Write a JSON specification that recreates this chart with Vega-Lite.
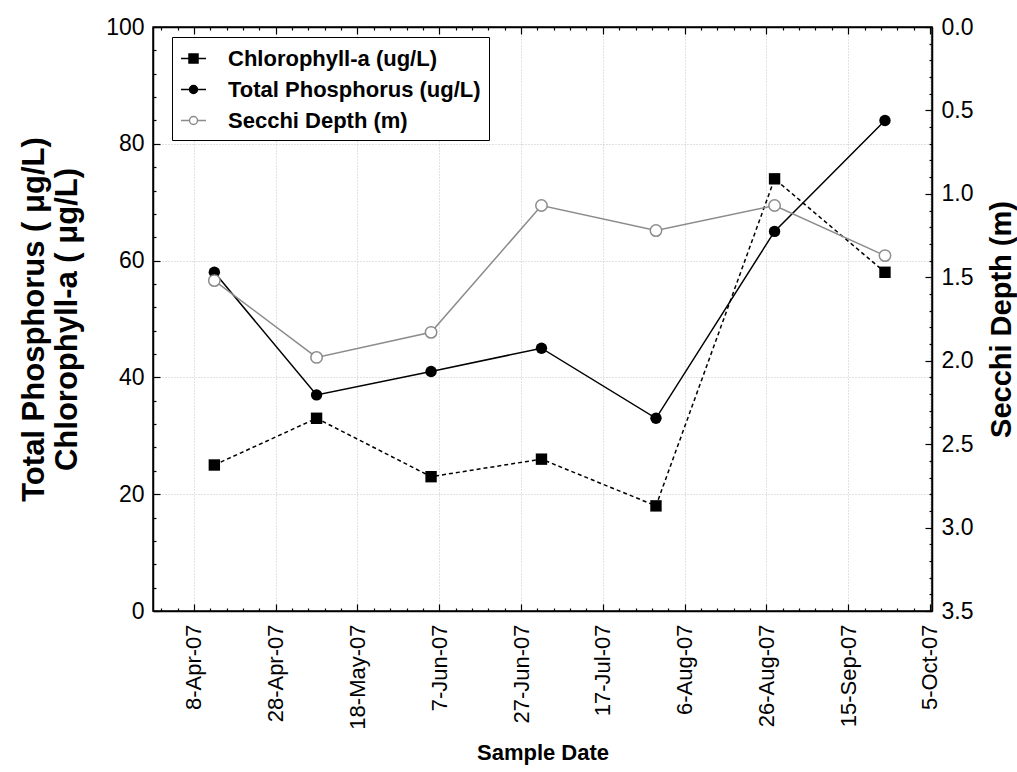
{
  "$schema": "https://vega.github.io/schema/vega-lite/v6.json",
  "autosize": {"type": "none"},
  "width": 779,
  "height": 584,
  "padding": {"left": 153, "top": 27, "right": 85, "bottom": 161},
  "background": "white",
  "config": {
    "font": "Liberation Sans",
    "view": {"stroke": "black", "strokeWidth": 1.5},
    "axis": {
      "domainColor": "black", "domainWidth": 1.5,
      "tickColor": "black", "tickWidth": 1.2,
      "labelColor": "black", "titleColor": "black",
      "labelFont": "Liberation Sans", "titleFont": "Liberation Sans",
      "labelFontSize": 23,
      "gridColor": "#c4c4c4", "gridDash": [1, 2], "gridWidth": 1
    },
    "legend": {
      "orient": "none", "legendX": 19, "legendY": 10, "title": null,
      "labelFont": "Liberation Sans", "labelFontSize": 22, "labelFontWeight": "bold", "labelColor": "black",
      "labelLimit": 400, "symbolSize": 625, "symbolStrokeWidth": 1.5, "labelOffset": 21, "rowPadding": 6, "padding": 8,
      "strokeColor": "black", "fillColor": "white"
    }
  },
  "data": {
    "values": [
      {"date": "2007-04-13", "series": "Chlorophyll-a (ug/L)", "value": 25},
      {"date": "2007-05-08", "series": "Chlorophyll-a (ug/L)", "value": 33},
      {"date": "2007-06-05", "series": "Chlorophyll-a (ug/L)", "value": 23},
      {"date": "2007-07-02", "series": "Chlorophyll-a (ug/L)", "value": 26},
      {"date": "2007-07-30", "series": "Chlorophyll-a (ug/L)", "value": 18},
      {"date": "2007-08-28", "series": "Chlorophyll-a (ug/L)", "value": 74},
      {"date": "2007-09-24", "series": "Chlorophyll-a (ug/L)", "value": 58},
      {"date": "2007-04-13", "series": "Total Phosphorus (ug/L)", "value": 58},
      {"date": "2007-05-08", "series": "Total Phosphorus (ug/L)", "value": 37},
      {"date": "2007-06-05", "series": "Total Phosphorus (ug/L)", "value": 41},
      {"date": "2007-07-02", "series": "Total Phosphorus (ug/L)", "value": 45},
      {"date": "2007-07-30", "series": "Total Phosphorus (ug/L)", "value": 33},
      {"date": "2007-08-28", "series": "Total Phosphorus (ug/L)", "value": 65},
      {"date": "2007-09-24", "series": "Total Phosphorus (ug/L)", "value": 84},
      {"date": "2007-04-13", "series": "Secchi Depth (m)", "value": 1.52},
      {"date": "2007-05-08", "series": "Secchi Depth (m)", "value": 1.98},
      {"date": "2007-06-05", "series": "Secchi Depth (m)", "value": 1.83},
      {"date": "2007-07-02", "series": "Secchi Depth (m)", "value": 1.07},
      {"date": "2007-07-30", "series": "Secchi Depth (m)", "value": 1.22},
      {"date": "2007-08-28", "series": "Secchi Depth (m)", "value": 1.07},
      {"date": "2007-09-24", "series": "Secchi Depth (m)", "value": 1.37}
    ]
  },
  "layer": [
    {
      "transform": [{"filter": "datum.series !== 'Secchi Depth (m)'"}],
      "encoding": {
        "x": {
          "field": "date", "type": "temporal",
          "scale": {"type": "utc", "domain": [1175126400000, 1191585600000]},
          "axis": {
            "orient": "bottom",
            "values": [1175299200000,1175644800000,1175990400000,1176336000000,1176681600000,1177027200000,1177372800000,1177718400000,1178064000000,1178409600000,1178755200000,1179100800000,1179446400000,1179792000000,1180137600000,1180483200000,1180828800000,1181174400000,1181520000000,1181865600000,1182211200000,1182556800000,1182902400000,1183248000000,1183593600000,1183939200000,1184284800000,1184630400000,1184976000000,1185321600000,1185667200000,1186012800000,1186358400000,1186704000000,1187049600000,1187395200000,1187740800000,1188086400000,1188432000000,1188777600000,1189123200000,1189468800000,1189814400000,1190160000000,1190505600000,1190851200000,1191196800000,1191542400000],
            "labelExpr": "(datum.value - 1175990400000) % 1728000000 === 0 ? utcFormat(datum.value, '%-d-%b-%y') : ''",
            "labelAngle": -90, "labelAlign": "right", "labelBaseline": "middle",
            "labelPadding": 20, "labelFontSize": 22,
            "labelOverlap": false, "labelFlush": false, "labelBound": false,
            "tickSize": {"condition": {"test": "(datum.value - 1175990400000) % 1728000000 === 0", "value": -7}, "value": -3},
            "grid": true,
            "gridOpacity": {"condition": {"test": "(datum.value - 1175990400000) % 1728000000 === 0", "value": 1}, "value": 0},
            "title": "Sample Date", "titleFontSize": 22, "titleFontWeight": "bold",
            "titleY": 148, "titleBaseline": "alphabetic"
          }
        },
        "y": {
          "field": "value", "type": "quantitative",
          "scale": {"domain": [0, 100], "nice": false, "zero": false},
          "axis": {
            "orient": "left",
            "values": [0,4,8,12,16,20,24,28,32,36,40,44,48,52,56,60,64,68,72,76,80,84,88,92,96,100],
            "labelExpr": "datum.value % 20 === 0 ? datum.label : ''",
            "labelPadding": 16, "labelFontSize": 23,
            "tickSize": {"condition": {"test": "datum.value % 20 === 0", "value": -7}, "value": -3},
            "grid": true,
            "gridOpacity": {"condition": {"test": "datum.value % 20 === 0", "value": 1}, "value": 0},
            "title": ["Total Phosphorus ( μg/L)", "Chlorophyll-a ( μg/L)"],
            "titleFontSize": 31, "titleFontWeight": "bold",
            "titleAngle": -90, "titleX": -119, "titleY": 292,
            "titleLineHeight": 33, "titleBaseline": "middle", "titleAlign": "center"
          }
        }
      },
      "layer": [
        {
          "transform": [{"filter": "datum.series === 'Chlorophyll-a (ug/L)'"}],
          "layer": [
            {"mark": {"type": "line", "color": "black", "strokeWidth": 1.5, "strokeDash": [4, 3]}},
            {"mark": {"type": "point", "shape": "square", "filled": true, "color": "black", "size": 130, "opacity": 1}}
          ]
        },
        {
          "transform": [{"filter": "datum.series === 'Total Phosphorus (ug/L)'"}],
          "layer": [
            {"mark": {"type": "line", "color": "black", "strokeWidth": 1.5}},
            {"mark": {"type": "point", "shape": "circle", "filled": true, "color": "black", "size": 130, "opacity": 1}}
          ]
        }
      ]
    },
    {
      "transform": [{"filter": "datum.series === 'Secchi Depth (m)'"}],
      "encoding": {
        "x": {
          "field": "date", "type": "temporal",
          "scale": {"type": "utc", "domain": [1175126400000, 1191585600000]},
          "axis": {
            "orient": "top",
            "values": [1175299200000,1175644800000,1175990400000,1176336000000,1176681600000,1177027200000,1177372800000,1177718400000,1178064000000,1178409600000,1178755200000,1179100800000,1179446400000,1179792000000,1180137600000,1180483200000,1180828800000,1181174400000,1181520000000,1181865600000,1182211200000,1182556800000,1182902400000,1183248000000,1183593600000,1183939200000,1184284800000,1184630400000,1184976000000,1185321600000,1185667200000,1186012800000,1186358400000,1186704000000,1187049600000,1187395200000,1187740800000,1188086400000,1188432000000,1188777600000,1189123200000,1189468800000,1189814400000,1190160000000,1190505600000,1190851200000,1191196800000,1191542400000],
            "labels": false, "title": null, "grid": false,
            "tickSize": {"condition": {"test": "(datum.value - 1175990400000) % 1728000000 === 0", "value": -7}, "value": -3}
          }
        },
        "y": {
          "field": "value", "type": "quantitative",
          "scale": {"domain": [0, 3.5], "reverse": true, "nice": false, "zero": false},
          "axis": {
            "orient": "right",
            "values": [0,0.1,0.2,0.3,0.4,0.5,0.6,0.7,0.8,0.9,1,1.1,1.2,1.3,1.4,1.5,1.6,1.7,1.8,1.9,2,2.1,2.2,2.3,2.4,2.5,2.6,2.7,2.8,2.9,3,3.1,3.2,3.3,3.4,3.5],
            "labelExpr": "abs(datum.value * 2 - round(datum.value * 2)) < 0.001 ? format(datum.value, '.1f') : ''",
            "labelPadding": 16, "labelFontSize": 23,
            "tickSize": {"condition": {"test": "abs(datum.value * 2 - round(datum.value * 2)) < 0.001", "value": -7}, "value": -3},
            "grid": false,
            "title": "Secchi Depth (m)", "titleFontSize": 29, "titleFontWeight": "bold",
            "titleAngle": -90, "titleX": 69, "titleY": 292,
            "titleBaseline": "middle", "titleAlign": "center"
          }
        }
      },
      "layer": [
        {"mark": {"type": "line", "color": "#8c8c8c", "strokeWidth": 1.5}},
        {"mark": {"type": "point", "shape": "circle", "filled": true, "fill": "white", "stroke": "#8c8c8c", "strokeWidth": 1.5, "size": 130, "opacity": 1}}
      ]
    },
    {
      "mark": {"type": "point", "filled": true, "size": 0, "opacity": 1, "strokeWidth": 1.5},
      "encoding": {
        "x": {"field": "date", "type": "temporal", "scale": {"type": "utc", "domain": [1175126400000, 1191585600000]}, "axis": null},
        "y": {"field": "value", "type": "quantitative", "axis": null},
        "shape": {
          "field": "series", "type": "nominal",
          "scale": {
            "domain": ["Chlorophyll-a (ug/L)", "Total Phosphorus (ug/L)", "Secchi Depth (m)"],
            "range": [
              "M-1,0H1M-0.36,-0.36H0.36V0.36H-0.36Z",
              "M-1,0H1M-0.32,0A0.32,0.32,0,1,0,0.32,0A0.32,0.32,0,1,0,-0.32,0Z",
              "M-1,0H-0.32M0.32,0H1M-0.32,0A0.32,0.32,0,1,0,0.32,0A0.32,0.32,0,1,0,-0.32,0Z"
            ]
          }
        },
        "fill": {
          "field": "series", "type": "nominal",
          "scale": {"domain": ["Chlorophyll-a (ug/L)", "Total Phosphorus (ug/L)", "Secchi Depth (m)"], "range": ["black", "black", "white"]}
        },
        "stroke": {
          "field": "series", "type": "nominal",
          "scale": {"domain": ["Chlorophyll-a (ug/L)", "Total Phosphorus (ug/L)", "Secchi Depth (m)"], "range": ["black", "black", "#8c8c8c"]}
        }
      }
    }
  ],
  "resolve": {"scale": {"y": "independent"}, "axis": {"x": "independent"}}
}
